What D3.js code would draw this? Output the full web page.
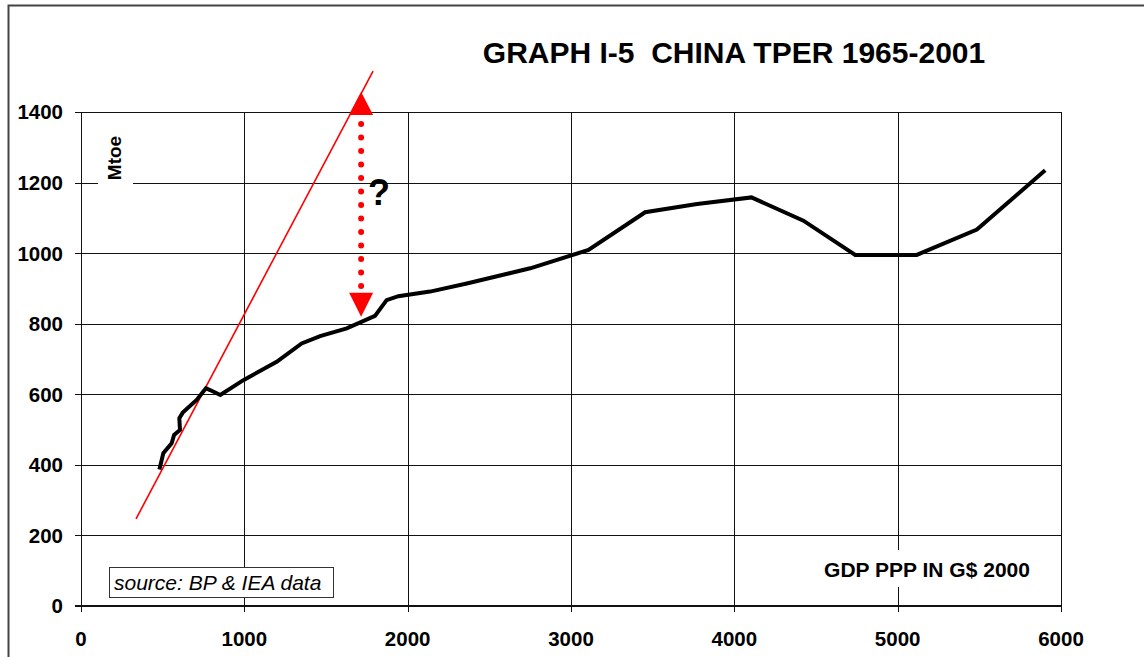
<!DOCTYPE html>
<html lang="en">
<head>
    <meta charset="UTF-8">
    <title>China TPER 1965-2001</title>
    <script src="https://d3js.org/d3.v7.min.js"></script>
    <style>
        body {
            margin: 0;
            padding: 0;
            background-color: #fff;
            font-family: "Liberation Sans", Arial, sans-serif;
        }
    </style>
</head>
<body>
    <div id="chart"></div>
    <script>
        // GDP PPP (G$ 2000) vs TPER (Mtoe)
        var gdp = [480, 494, 504, 555, 570, 606, 602, 623, 708, 765, 790, 853, 994, 1198, 1351, 1464, 1627, 1800, 1871, 1943, 2137, 2362, 2750, 3107, 3454, 3772, 4105, 4423, 4740, 5117, 5485, 5903];
        var tper = [387, 414, 433, 461, 485, 499, 532, 548, 584, 617, 612, 598, 640, 692, 744, 765, 787, 822, 867, 878, 891, 914, 957, 1009, 1116, 1139, 1158, 1092, 995, 995, 1067, 1235];

        // red trend line
        var trendGdp = [337, 1788];
        var trendTper = [247, 1516];

        // dotted arrow (the "?" gap)
        var arrowGdp = 1715;
        var arrowTper = [820, 1457];

        var xTicks = [0, 1000, 2000, 3000, 4000, 5000, 6000];
        var yTicks = [0, 200, 400, 600, 800, 1000, 1200, 1400];

        var W = 1144, H = 657;
        var margin = { top: 112, left: 81 },
            width = 980,
            height = 494;

        var svg = d3.select("#chart")
            .append("svg")
            .attr("width", W)
            .attr("height", H);

        // outer frame
        svg.append("rect")
            .attr("x", 8.5).attr("y", 5.5)
            .attr("width", W).attr("height", H)
            .attr("fill", "none")
            .attr("stroke", "#444")
            .attr("stroke-width", 2);

        var g = svg.append("g")
            .attr("transform", "translate(" + margin.left + "," + margin.top + ")");

        var x = d3.scaleLinear().domain([0, 6000]).range([0, width]);
        var y = d3.scaleLinear().domain([0, 1400]).range([height, 0]);

        // grid lines
        g.append("g")
            .selectAll("line")
            .data(yTicks.slice(1))
            .enter()
            .append("line")
            .attr("x1", -6).attr("x2", width)
            .attr("y1", function (d) { return Math.round(y(d)) + 0.5; })
            .attr("y2", function (d) { return Math.round(y(d)) + 0.5; })
            .attr("stroke", "#111")
            .attr("stroke-width", 1);

        g.append("g")
            .selectAll("line")
            .data(xTicks)
            .enter()
            .append("line")
            .attr("x1", function (d) { return Math.round(x(d)) + 0.5; })
            .attr("x2", function (d) { return Math.round(x(d)) + 0.5; })
            .attr("y1", 0).attr("y2", height + 6)
            .attr("stroke", "#111")
            .attr("stroke-width", 1);

        // bottom axis line (thicker)
        g.append("line")
            .attr("x1", -6).attr("x2", width + 0.5)
            .attr("y1", height).attr("y2", height)
            .attr("stroke", "#111")
            .attr("stroke-width", 2);

        // tick labels
        g.append("g")
            .selectAll("text")
            .data(yTicks)
            .enter()
            .append("text")
            .attr("x", -18)
            .attr("y", function (d) { return y(d); })
            .attr("dy", "0.36em")
            .attr("text-anchor", "end")
            .style("font-size", "20.5px")
            .style("font-weight", "bold")
            .text(function (d) { return d; });

        g.append("g")
            .selectAll("text")
            .data(xTicks)
            .enter()
            .append("text")
            .attr("x", function (d) { return x(d); })
            .attr("y", height + 40)
            .attr("text-anchor", "middle")
            .style("font-size", "20.5px")
            .style("font-weight", "bold")
            .text(function (d) { return d; });

        // Mtoe label with white background
        g.append("rect")
            .attr("x", 17).attr("y", 20)
            .attr("width", 35).attr("height", 54)
            .attr("fill", "#fff");
        g.append("text")
            .attr("transform", "translate(" + 40 + "," + 46 + ") rotate(-90)")
            .attr("text-anchor", "middle")
            .style("font-size", "19px")
            .style("font-weight", "bold")
            .text("Mtoe");

        // GDP label with white background
        g.append("rect")
            .attr("x", 740).attr("y", 438)
            .attr("width", 216).attr("height", 37)
            .attr("fill", "#fff");
        g.append("text")
            .attr("x", 846).attr("y", 465)
            .attr("text-anchor", "middle")
            .style("font-size", "21px")
            .style("font-weight", "bold")
            .text("GDP PPP IN G$ 2000");

        // source box
        g.append("rect")
            .attr("x", 28.5).attr("y", 455.5)
            .attr("width", 224).attr("height", 30)
            .attr("fill", "#fff")
            .attr("stroke", "#333")
            .attr("stroke-width", 1);
        g.append("text")
            .attr("x", 33).attr("y", 478)
            .style("font-size", "21px")
            .style("font-style", "italic")
            .text("source: BP & IEA data");

        // red trend line
        g.append("line")
            .attr("x1", x(trendGdp[0])).attr("y1", y(trendTper[0]))
            .attr("x2", x(trendGdp[1])).attr("y2", y(trendTper[1]))
            .attr("stroke", "#ff0000")
            .attr("stroke-width", 1.6);

        // data line
        var pts = gdp.map(function (d, i) { return [d, tper[i]]; });
        g.append("path")
            .datum(pts)
            .attr("fill", "none")
            .attr("stroke", "#000")
            .attr("stroke-width", 4)
            .attr("stroke-linejoin", "miter")
            .attr("d", d3.line()
                .x(function (d) { return x(d[0]); })
                .y(function (d) { return y(d[1]); }));

        // dotted arrow
        var ax = x(arrowGdp);
        var yLo = y(arrowTper[0]), yHi = y(arrowTper[1]);
        g.append("line")
            .attr("x1", ax).attr("x2", ax)
            .attr("y1", yHi + 32).attr("y2", yLo - 29)
            .attr("stroke", "#ff0000")
            .attr("stroke-width", 6)
            .attr("stroke-linecap", "round")
            .attr("stroke-dasharray", "0,13.5");
        g.append("path")
            .attr("d", "M" + ax + "," + yHi + "L" + (ax + 12) + "," + (yHi + 23) + "L" + (ax - 12) + "," + (yHi + 23) + "Z")
            .attr("fill", "#ff0000");
        g.append("path")
            .attr("d", "M" + ax + "," + yLo + "L" + (ax + 12) + "," + (yLo - 24) + "L" + (ax - 12) + "," + (yLo - 24) + "Z")
            .attr("fill", "#ff0000");
        g.append("text")
            .attr("x", ax + 7).attr("y", 93)
            .style("font-size", "36px")
            .style("font-weight", "bold")
            .text("?");

        // title
        svg.append("text")
            .attr("x", 734).attr("y", 63)
            .attr("text-anchor", "middle")
            .style("font-size", "30px")
            .style("font-weight", "bold")
            .style("white-space", "pre")
            .text("GRAPH I-5  CHINA TPER 1965-2001");
    </script>
</body>
</html>
